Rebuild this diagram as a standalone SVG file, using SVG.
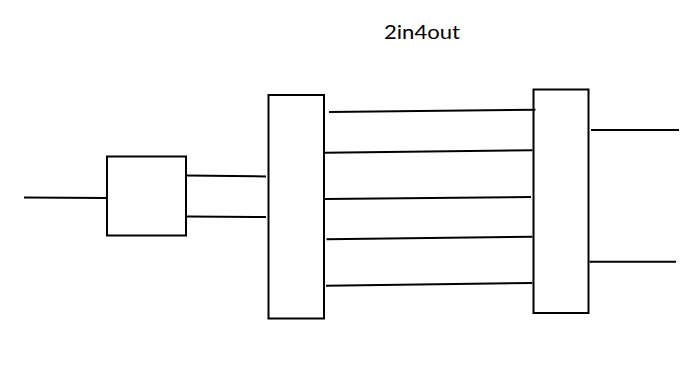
<svg xmlns="http://www.w3.org/2000/svg" width="700" height="389" viewBox="0 0 700 389">
<style>
.n{fill:#fff;stroke:#000;stroke-width:2}
.c{stroke:#000;stroke-width:2;fill:none;stroke-linecap:butt}
.t{font-family:Lato,"Liberation Sans",Arial,sans-serif;font-size:18.5px;fill:#000}
</style>
<rect width="700" height="389" fill="#fff"/>
<text class="t" x="384" y="38.5" textLength="76" lengthAdjust="spacingAndGlyphs">2in4out</text>
<g id="box1"><rect class="n" x="107" y="156.5" width="79" height="79"/></g>
<g id="box2"><rect class="n" x="268.5" y="95" width="55.5" height="223.5"/></g>
<g id="box3"><rect class="n" x="533.5" y="89.5" width="55" height="223.5"/></g>
<g id="connectors">
<line class="c" x1="24" y1="197.5" x2="106" y2="198"/>
<line class="c" x1="187" y1="175.5" x2="266" y2="176.5"/>
<line class="c" x1="187" y1="216.5" x2="266" y2="217"/>
<line class="c" x1="329" y1="112" x2="535.5" y2="109.7"/>
<line class="c" x1="325" y1="152.7" x2="532.5" y2="150.3"/>
<line class="c" x1="325" y1="199" x2="531" y2="197"/>
<line class="c" x1="326.5" y1="239.3" x2="532.5" y2="236.7"/>
<line class="c" x1="326" y1="285.7" x2="532.5" y2="283"/>
<line class="c" x1="591" y1="130" x2="679" y2="130"/>
<line class="c" x1="589.5" y1="261.7" x2="676" y2="261.7"/>
</g>
</svg>
